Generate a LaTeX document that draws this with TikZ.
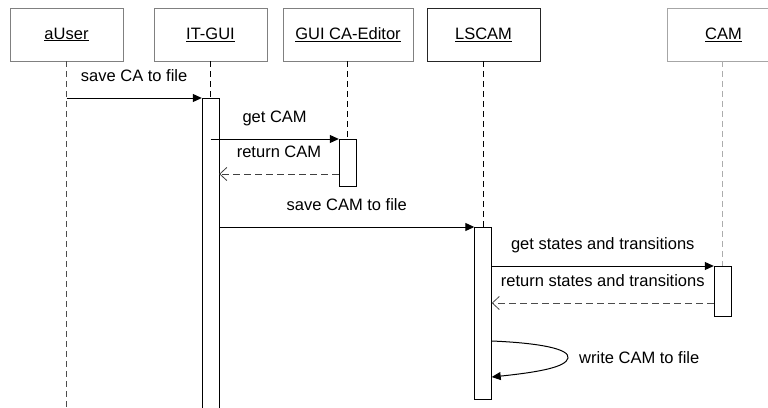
\documentclass[tikz,border=0pt]{standalone}
\usepackage{fontspec}
\setmainfont{Liberation Sans}
\usetikzlibrary{arrows.meta,positioning,calc}
\tikzset{
  head/.style ={draw=gray,minimum width=113pt,minimum height=53pt,inner sep=0pt},
  bar/.style  ={draw,fill=white,minimum width=17pt,anchor=north,inner sep=0pt},
  life/.style ={dash pattern=on 6pt off 4pt},
  msg/.style  ={line width=1pt,-{Triangle[length=9pt,width=8pt]}},
  ret/.style  ={line width=1pt,dash pattern=on 7pt off 4pt,
                -{Straight Barb[length=7pt,width=13pt,line width=0.8pt]}},
  lbl/.style  ={anchor=base,yshift=17pt,inner sep=0pt},
}

\begin{document}
\begin{tikzpicture}[x=1pt,y=-1pt,font=\fontsize{16.5}{19}\selectfont]
  \fill[white] (0,0) rectangle (768,407);
  \useasboundingbox (0,0) rectangle (768,407);
  % heads
  \node[head] (user) at (66.5,34.5) {\underline{aUser}};
  \node[head] (gui) at (210.5,34.5) {\underline{IT-GUI}};
  \node[head,minimum width=130pt] (edit) at (348,34.5) {\underline{GUI CA-Editor}};
  \node[head,draw=black!85] (ls) at (483.5,34.5) {\underline{LSCAM}};
  \node[head,draw=gray!70] (cam) at (723.5,34.5) {\underline{CAM}};
  % activation bars
  \node[bar,minimum height=320pt] (guibar) at (210.5,98) {};
  \node[bar,minimum height=47pt] (editbar) at (347.5,139) {};
  \node[bar,minimum height=172pt] (lsbar) at (483,227) {};
  \node[bar,minimum height=50pt] (cambar) at (722.5,266) {};
  % lifelines
  \draw[life,black!70] (user.south) -- (user.south |- 0,407);
  \draw[life] (gui.south) -- (guibar.north);
  \draw[life] (edit.south -| editbar.north) -- (editbar.north);
  \draw[life] (ls.south -| lsbar.north) -- (lsbar.north);
  \draw[life,gray!65] (cam.south -| cambar.north) -- (cambar.north);
  % messages
  \coordinate (r1) at (editbar.west |- 0,174);
  \coordinate (r2) at (cambar.west |- 0,303);
  \coordinate (w1) at (lsbar.east |- 0,341);
  \coordinate (w2) at (lsbar.east |- 0,377);
  \coordinate (wt) at (568,358);
  \draw[msg] (user.south |- guibar.north) -- node[lbl] {save CA to file} (guibar.north west);
  \draw[msg] (guibar.north |- editbar.north) -- node[lbl] {get CAM} (editbar.north west);
  \draw[ret,black!75] (r1) -- node[lbl,black] {return CAM} (guibar.east |- r1);
  \draw[msg] (guibar.east |- lsbar.north) -- node[lbl] {save CAM to file} (lsbar.north west);
  \draw[msg] (lsbar.east |- cambar.north) -- node[lbl] {get states and transitions} (cambar.north west);
  \draw[ret,black!70] (r2) -- node[lbl,black] {return states and transitions} (lsbar.east |- r2);
  \draw[msg] (w1) .. controls (540,343) and (570,349) .. (wt)
                  .. controls (566,367) and (540,372) .. (w2);
  \node[anchor=west,inner sep=0pt] (wlbl) at (579,358) {write CAM to file};
\end{tikzpicture}
\end{document}
